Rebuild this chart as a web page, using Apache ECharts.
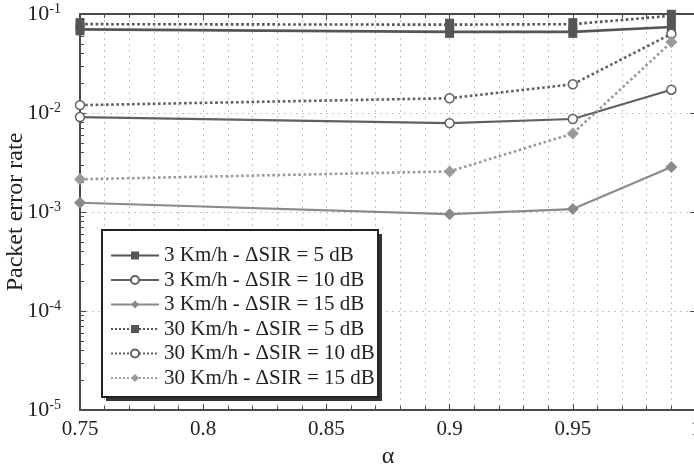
<!DOCTYPE html>
<html>
<head>
<meta charset="utf-8">
<script src="https://cdn.jsdelivr.net/npm/echarts@6/dist/echarts.min.js"></script>
<style>
  html, body { margin: 0; padding: 0; background: #fff; }
  #chart { width: 694px; height: 467px; }
</style>
</head>
<body>
<div id="chart"></div>
<script>
const alphaValues = [0.75, 0.9, 0.95, 0.99];

const seriesNames = [
  '3 Km/h - ΔSIR = 5 dB',
  '3 Km/h - ΔSIR = 10 dB',
  '3 Km/h - ΔSIR = 15 dB',
  '30 Km/h - ΔSIR = 5 dB',
  '30 Km/h - ΔSIR = 10 dB',
  '30 Km/h - ΔSIR = 15 dB'
];

const slow5 = [0.070, 0.066, 0.066, 0.074];
const slow10 = [0.0091, 0.0079, 0.0087, 0.0172];
const slow15 = [0.00124, 0.00095, 0.00107, 0.00285];
const fast5 = [0.079, 0.078, 0.079, 0.096];
const fast10 = [0.0120, 0.0141, 0.0195, 0.063];
const fast15 = [0.00214, 0.00257, 0.0062, 0.052];

const serif = "'Liberation Serif', 'Times New Roman', serif";
const gridColor = '#c4c4c4';
const frameColor = '#4a4a4a';

const pairs = (vals) => alphaValues.map((a, i) => [a, vals[i]]);

const makeLine = (name, vals, color, lineType, symbol, size, hollow, width) => ({
  name: name,
  type: 'line',
  data: pairs(vals),
  symbol: symbol,
  symbolSize: size,
  showSymbol: true,
  lineStyle: { color: color, width: width, type: lineType },
  itemStyle: { color: hollow ? '#fff' : color, borderColor: color, borderWidth: hollow ? 1.5 : 0 },
  emphasis: { disabled: true },
  z: 3
});

// legend frame (box + hard drop shadow), drawn under the legend items
const legendBox = { x: 102, y: 230, w: 276, h: 167 };

const chart = echarts.init(document.getElementById('chart'));

chart.setOption({
  animation: false,
  backgroundColor: '#fff',
  grid: { left: 80, right: -2, top: 14, bottom: 57, outerBoundsMode: 'none' },
  graphic: [
    {
      type: 'rect', z: 10, silent: true,
      shape: { x: legendBox.x + 4, y: legendBox.y + 4, width: legendBox.w, height: legendBox.h },
      style: { fill: '#333' }
    },
    {
      type: 'rect', z: 11, silent: true,
      shape: { x: legendBox.x, y: legendBox.y, width: legendBox.w, height: legendBox.h },
      style: { fill: '#fff', stroke: '#222', lineWidth: 2 }
    }
  ],
  xAxis: [
    {
      type: 'value',
      min: 0.75,
      max: 1.0,
      interval: 0.05,
      name: 'α',
      nameLocation: 'middle',
      nameGap: 32,
      nameTextStyle: { fontFamily: serif, fontSize: 24, color: '#222' },
      axisLine: { show: true, onZero: false, lineStyle: { color: frameColor, width: 2 } },
      axisTick: { show: true, inside: true, length: 6, lineStyle: { color: frameColor, width: 1 } },
      minorTick: { show: true, splitNumber: 5, length: 4, lineStyle: { color: frameColor } },
      splitLine: { show: true, lineStyle: { color: gridColor, type: [2, 4], width: 1 } },
      minorSplitLine: { show: true, lineStyle: { color: gridColor, type: [2, 4], width: 1 } },
      axisLabel: {
        fontFamily: serif, fontSize: 21, color: '#222', margin: 9,
        formatter: (v) => (Math.abs(v - 1) < 1e-9 ? '1' : String(+v.toFixed(2)))
      }
    },
    {
      type: 'value',
      position: 'top',
      min: 0.75,
      max: 1.0,
      interval: 0.05,
      axisLine: { show: true, onZero: false, lineStyle: { color: frameColor, width: 2 } },
      axisTick: { show: true, inside: true, length: 6, lineStyle: { color: frameColor } },
      minorTick: { show: true, splitNumber: 5, length: 4, lineStyle: { color: frameColor } },
      splitLine: { show: false },
      axisLabel: { show: false }
    }
  ],
  yAxis: [
    {
      type: 'log',
      logBase: 10,
      min: 1e-5,
      max: 1e-1,
      name: 'Packet error rate',
      nameLocation: 'middle',
      nameGap: 52,
      nameMoveOverlap: false,
      nameTextStyle: { fontFamily: serif, fontSize: 24, color: '#222' },
      axisLine: { show: true, onZero: false, lineStyle: { color: frameColor, width: 2 } },
      axisTick: { show: true, inside: true, length: 6, lineStyle: { color: frameColor } },
      minorTick: { show: true, splitNumber: 9, length: 4, lineStyle: { color: frameColor } },
      splitLine: { show: true, lineStyle: { color: gridColor, type: [2, 4], width: 1 } },
      axisLabel: {
        margin: 19,
        formatter: (v) => '{b|10}{s|' + Math.round(Math.log10(v)) + '}',
        rich: {
          b: { fontFamily: serif, fontSize: 22, color: '#222', lineHeight: 24 },
          s: { fontFamily: serif, fontSize: 14, color: '#222', lineHeight: 10, verticalAlign: 'top' }
        }
      }
    },
    {
      type: 'log',
      logBase: 10,
      min: 1e-5,
      max: 1e-1,
      position: 'right',
      axisLine: { show: true, onZero: false, lineStyle: { color: frameColor, width: 2 } },
      axisTick: { show: true, inside: true, length: 6, lineStyle: { color: frameColor } },
      splitLine: { show: false },
      axisLabel: { show: false }
    }
  ],
  legend: {
    orient: 'vertical',
    z: 12,
    left: legendBox.x,
    top: legendBox.y,
    padding: [15, 2, 8, 8],
    itemGap: 3.5,
    itemWidth: 48,
    itemHeight: 10,
    textStyle: { fontFamily: serif, fontSize: 21, color: '#222', lineHeight: 21 },
    data: seriesNames
  },
  series: [
    makeLine(seriesNames[0], slow5, '#555', 'solid', 'rect', [9, 12], false, 2.6),
    makeLine(seriesNames[1], slow10, '#606060', 'solid', 'circle', 9, true, 2.2),
    makeLine(seriesNames[2], slow15, '#8a8a8a', 'solid', 'diamond', 12, false, 2.2),
    makeLine(seriesNames[3], fast5, '#555', 'dotted', 'rect', [9, 12], false, 2.6),
    makeLine(seriesNames[4], fast10, '#606060', 'dotted', 'circle', 9, true, 2.6),
    makeLine(seriesNames[5], fast15, '#9a9a9a', 'dotted', 'diamond', 12, false, 2.6)
  ]
});
</script>
</body>
</html>
